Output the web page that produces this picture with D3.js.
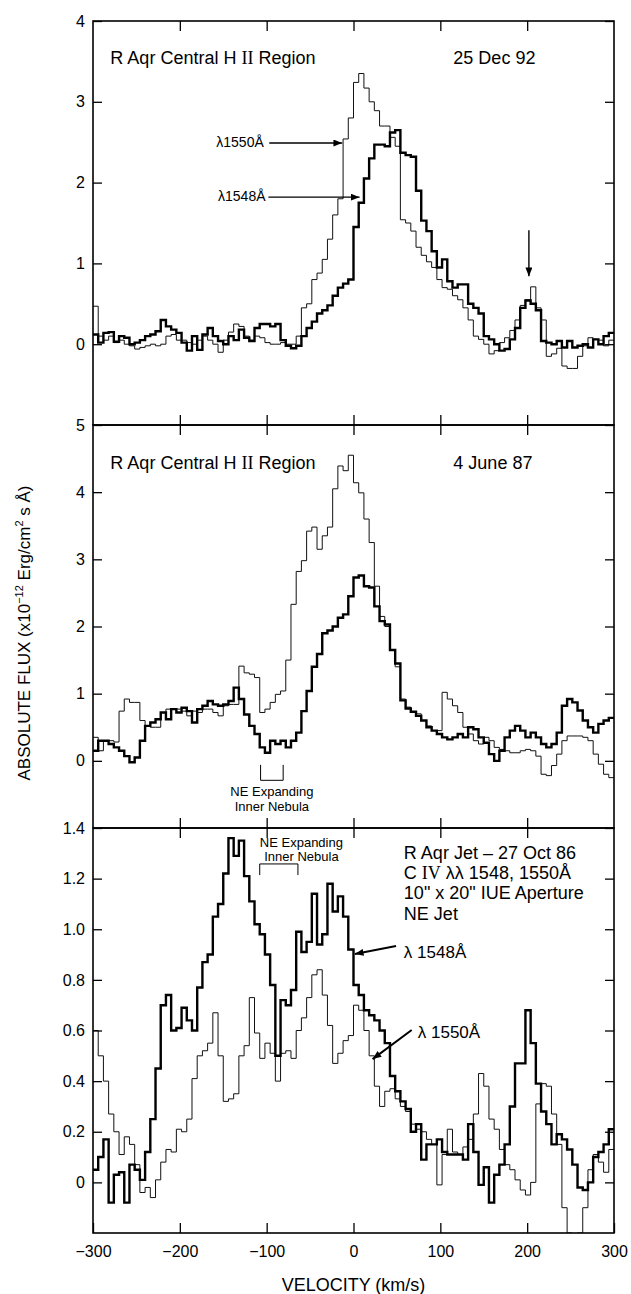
<!DOCTYPE html>
<html lang="en">
<head>
<meta charset="utf-8">
<title>R Aqr C IV profiles</title>
<script src="https://d3js.org/d3.v7.min.js"></script>
<style>
  body { margin: 0; background: #fff; }
  svg text { font-family: "Liberation Sans", Arial, sans-serif; fill: #000; }
  .serif { font-family: "Liberation Serif", "Times New Roman", serif; }
</style>
</head>
<body>
<script>
// velocity grid of the spectra: first bin start and bin width (km/s)
var binStart = -300
var binWidth = 6

var xTicks = [-200, -100, 0, 100, 200]
var xLabels = [-300, -200, -100, 0, 100, 200, 300]

// panel 1: central H II region, 25 Dec 92
var p1Ticks = [0, 1, 2, 3, 4]
var p1Thick = [
  0.12, 0.02, 0.14, 0.15, 0.03, 0.1, 0.08, 0.0, 0.02, 0.05,
  0.1, 0.12, 0.16, 0.3, 0.22, 0.18, 0.14, 0.02, -0.08, 0.1,
  -0.07, 0.12, 0.2, 0.1, 0.04, 0.0, 0.1, 0.05, 0.18, 0.08,
  0.04, 0.2, 0.25, 0.25, 0.22, 0.25, 0.05, -0.02, -0.05, -0.02,
  0.1, 0.2, 0.28, 0.38, 0.42, 0.48, 0.6, 0.7, 0.75, 0.8,
  1.45, 1.75, 2.05, 2.3, 2.47, 2.47, 2.45, 2.62, 2.65, 2.37,
  2.34, 2.32, 1.9, 1.53, 1.4, 1.15, 0.95, 1.05, 0.78, 0.7,
  0.74, 0.74, 0.5, 0.45, 0.38, 0.1, 0.06, 0.0, -0.08, -0.06,
  0.06, 0.2, 0.45, 0.54, 0.5, 0.42, 0.04, 0.02, 0.0, 0.04,
  -0.04, 0.04, -0.04, -0.02, 0.0, -0.04, 0.06, 0.0, 0.1, 0.14
]
var p1Thin = [
  0.47, 0.1, 0.05, 0.1, 0.02, 0.05, 0.0, -0.02, -0.06, -0.04,
  -0.02, 0.0, -0.02, 0.0, 0.1, 0.12, 0.05, 0.05, 0.02, 0.0,
  0.05, 0.1, 0.05, 0.0, -0.1, 0.05, 0.15, 0.25, 0.22, 0.1,
  0.05, 0.1, 0.08, 0.02, 0.0, 0.0, 0.02, 0.0, 0.0, 0.1,
  0.45, 0.5, 0.8, 0.88, 1.05, 1.3, 1.6, 1.8, 2.54, 2.8,
  3.24, 3.35, 3.17, 3.0, 2.89, 2.7, 2.7, 2.56, 2.45, 1.54,
  1.5, 1.4, 1.2, 1.1, 1.02, 0.95, 0.8, 0.7, 0.68, 0.6,
  0.55, 0.45, 0.3, 0.1, 0.06, 0.0, -0.12, -0.08, 0.02, 0.08,
  0.17, 0.3, 0.48, 0.55, 0.71, 0.45, 0.3, -0.15, -0.12, -0.05,
  -0.27, -0.3, -0.3, -0.15, -0.02, 0.08, 0.06, 0.05, -0.02, 0.05
]

// panel 2: central H II region, 4 June 87
var p2Ticks = [0, 1, 2, 3, 4, 5]
var p2Thick = [
  0.15, 0.3, 0.3, 0.25, 0.2, 0.15, 0.07, -0.02, 0.05, 0.3,
  0.52, 0.57, 0.62, 0.72, 0.62, 0.77, 0.72, 0.79, 0.74, 0.57,
  0.77, 0.82, 0.89, 0.84, 0.82, 0.84, 0.89, 1.09, 0.92, 0.69,
  0.52, 0.4, 0.2, 0.12, 0.3, 0.25, 0.3, 0.2, 0.3, 0.42,
  0.74, 1.04, 1.4, 1.59, 1.9, 1.94, 2.0, 2.13, 2.18, 2.45,
  2.73, 2.76, 2.6, 2.58, 2.3, 2.08, 2.03, 1.65, 1.45, 0.9,
  0.78, 0.73, 0.67, 0.6, 0.5, 0.45, 0.4, 0.35, 0.32, 0.35,
  0.4, 0.35, 0.5, 0.47, 0.35, 0.27, 0.1, 0.0, 0.15, 0.35,
  0.45, 0.52, 0.45, 0.35, 0.42, 0.35, 0.25, 0.2, 0.25, 0.42,
  0.82, 0.92, 0.87, 0.75, 0.6, 0.5, 0.42, 0.55, 0.6, 0.64
]
var p2Thin = [
  0.35, 0.15, 0.3, 0.3, 0.28, 0.74, 0.92, 0.87, 0.87, 0.6,
  0.52, 0.5, 0.5, 0.72, 0.77, 0.77, 0.77, 0.74, 0.67, 0.74,
  0.72, 0.77, 0.77, 0.72, 0.67, 0.82, 0.84, 0.84, 1.41, 1.31,
  1.29, 1.24, 0.72, 0.77, 0.87, 0.99, 1.04, 1.5, 2.33, 2.82,
  2.98, 3.42, 3.48, 3.15, 3.35, 3.48, 4.05, 4.39, 4.32, 4.55,
  4.14, 3.99, 3.6, 3.25, 2.6, 2.15, 2.0, 1.65, 1.4, 0.92,
  0.8, 0.72, 0.7, 0.6, 0.52, 0.45, 0.45, 1.02, 0.92, 0.82,
  0.72, 0.5, 0.4, 0.3, 0.25, 0.35, 0.3, 0.2, 0.17, 0.15,
  0.12, 0.12, 0.15, 0.17, 0.15, 0.07, -0.2, -0.22, -0.07, 0.1,
  0.3, 0.37, 0.37, 0.37, 0.35, 0.3, 0.1, -0.05, -0.2, -0.25
]

// panel 3: NE jet, 27 Oct 86
var p3Ticks = [0, 0.2, 0.4, 0.6, 0.8, 1.0, 1.2, 1.4]
var p3Thick = [
  0.05, 0.1, 0.17, -0.08, 0.03, 0.04, -0.08, 0.07, 0.05, 0.01,
  0.12, 0.25, 0.45, 0.7, 0.74, 0.6, 0.61, 0.69, 0.64, 0.6,
  0.77, 0.87, 0.9, 1.05, 1.1, 1.22, 1.36, 1.29, 1.35, 1.21,
  1.11, 1.02, 0.98, 0.9, 0.78, 0.5, 0.72, 0.7, 0.76, 0.99,
  0.91, 0.95, 1.14, 0.94, 0.98, 1.18, 1.07, 1.13, 1.05, 0.92,
  0.78, 0.74, 0.68, 0.66, 0.64, 0.6, 0.55, 0.42, 0.36, 0.32,
  0.29, 0.2, 0.23, 0.09, 0.15, 0.15, 0.17, 0.12, 0.11, 0.11,
  0.11, 0.09, 0.23, 0.12, -0.01, 0.06, -0.08, 0.03, 0.07, 0.15,
  0.3, 0.47, 0.47, 0.68, 0.55, 0.39, 0.28, 0.23, 0.15, 0.19,
  0.17, 0.13, 0.07, -0.02, -0.03, 0.0, 0.1, 0.12, 0.15, 0.21
]
var p3Thin = [
  0.6, 0.5, 0.4, 0.27, 0.2, 0.11, 0.18, 0.15, 0.07, -0.04,
  -0.02, -0.06, 0.01, 0.08, 0.13, 0.12, 0.21, 0.2, 0.25, 0.41,
  0.5, 0.52, 0.55, 0.67, 0.5, 0.32, 0.33, 0.35, 0.5, 0.54,
  0.73, 0.59, 0.49, 0.55, 0.51, 0.4, 0.51, 0.52, 0.49, 0.6,
  0.65, 0.73, 0.82, 0.84, 0.74, 0.62, 0.47, 0.51, 0.56, 0.58,
  0.7, 0.68, 0.6, 0.5, 0.38, 0.3, 0.36, 0.37, 0.33, 0.3,
  0.28, 0.23, 0.21, 0.2, 0.17, 0.15, -0.01, 0.11, 0.21, 0.12,
  0.11, 0.14, 0.17, 0.27, 0.43, 0.38, 0.25, 0.21, 0.13, 0.07,
  0.05, 0.01, -0.03, -0.05, 0.0, 0.31, 0.39, 0.38, 0.27, 0.15,
  -0.1, -0.2, -0.25, -0.2, -0.1, 0.05, 0.11, 0.08, 0.04, 0.13
]

var w = 631
var h = 1294
var left = 93, right = 614

var svg = d3.select("body").append("svg")
  .attr("width", w)
  .attr("height", h)

var defs = svg.append("defs")
defs.append("marker")
  .attr("id", "arrow")
  .attr("markerUnits", "userSpaceOnUse")
  .attr("viewBox", "0 0 10 8")
  .attr("refX", 10).attr("refY", 4)
  .attr("markerWidth", 9).attr("markerHeight", 7)
  .attr("orient", "auto")
  .append("path").attr("d", "M0,0L10,4L0,8z").attr("fill", "#000")

var x = d3.scaleLinear().domain([-300, 300]).range([left, right])

var panels = [
  { top: 21, bottom: 425, domain: [-1, 4], ticks: p1Ticks, thick: p1Thick, thin: p1Thin, fmt: d3.format("d") },
  { top: 425, bottom: 828, domain: [-1, 5], ticks: p2Ticks, thick: p2Thick, thin: p2Thin, fmt: d3.format("d") },
  { top: 828, bottom: 1233, domain: [-0.2, 1.4], ticks: p3Ticks, thick: p3Thick, thin: p3Thin,
    fmt: function(d) { return d === 0 ? "0" : d3.format(".1f")(d) } }
]

panels.forEach(function(p, k) {
  p.y = d3.scaleLinear().domain(p.domain).range([p.bottom, p.top])

  defs.append("clipPath").attr("id", "clip" + k)
    .append("rect")
    .attr("x", left).attr("y", p.top)
    .attr("width", right - left).attr("height", p.bottom - p.top)

  var step = d3.line()
    .x(function(d) { return x(d[0]) })
    .y(function(d) { return p.y(d[1]) })
    .curve(d3.curveStepAfter)

  function pts(vals) {
    var a = vals.map(function(v, i) { return [binStart + i * binWidth, v] })
    a.push([binStart + vals.length * binWidth, vals[vals.length - 1]])
    return a
  }

  var g = svg.append("g").attr("clip-path", "url(#clip" + k + ")")
  g.append("path").datum(pts(p.thin))
    .attr("d", step).attr("fill", "none")
    .attr("stroke", "#111").attr("stroke-width", 1)
  g.append("path").datum(pts(p.thick))
    .attr("d", step).attr("fill", "none")
    .attr("stroke", "#000").attr("stroke-width", 2.4)
    .attr("stroke-linejoin", "miter")

  // y axes, ticks pointing inward
  var yl = svg.append("g").attr("transform", "translate(" + left + ",0)")
    .call(d3.axisLeft(p.y).tickValues(p.ticks).tickSize(-9).tickPadding(8).tickFormat(p.fmt))
  var yr = svg.append("g").attr("transform", "translate(" + right + ",0)")
    .call(d3.axisRight(p.y).tickValues(p.ticks).tickSize(-9).tickFormat(""))

  // x ticks on the top and bottom edge of every panel
  var xt = svg.append("g").attr("transform", "translate(0," + p.top + ")")
    .call(d3.axisTop(x).tickValues(xTicks).tickSize(-10).tickFormat(""))
  var xb
  if (k === 2) {
    xb = svg.append("g").attr("transform", "translate(0," + p.bottom + ")")
      .call(d3.axisBottom(x).tickValues(xLabels).tickSize(-10).tickPadding(13))
  } else {
    xb = svg.append("g").attr("transform", "translate(0," + p.bottom + ")")
      .call(d3.axisBottom(x).tickValues(xTicks).tickSize(-10).tickFormat(""))
  }

  ;[yl, yr, xt, xb].forEach(function(a) {
    a.select(".domain").remove()
    a.selectAll("line").attr("stroke", "#000").attr("stroke-width", 1.3)
    a.selectAll("text").attr("font-size", 16).attr("font-family", "'Liberation Sans', Arial, sans-serif")
  })

  svg.append("rect")
    .attr("x", left).attr("y", p.top)
    .attr("width", right - left).attr("height", p.bottom - p.top)
    .attr("fill", "none").attr("stroke", "#000").attr("stroke-width", 1.6)
})

var y1 = panels[0].y, y2 = panels[1].y, y3 = panels[2].y

function title(y, yv, date) {
  var t = svg.append("text").attr("x", x(-280)).attr("y", y(yv)).attr("font-size", 18)
  t.append("tspan").text("R Aqr Central H ")
  t.append("tspan").attr("class", "serif").text("II")
  t.append("tspan").text(" Region")
  svg.append("text").attr("x", x(115)).attr("y", y(yv)).attr("font-size", 18).text(date)
}
title(y1, 3.47, "25 Dec 92")
title(y2, 4.34, "4 June 87")

function arrow(x1, y1v, x2, y2v, ys, sw) {
  svg.append("line")
    .attr("x1", x(x1)).attr("y1", ys(y1v))
    .attr("x2", x(x2)).attr("y2", ys(y2v))
    .attr("stroke", "#000").attr("stroke-width", sw || 1.3)
    .attr("marker-end", "url(#arrow)")
}

// panel 1 labels
svg.append("text").attr("x", x(-158)).attr("y", y1(2.44)).attr("font-size", 14).text("λ1550Å")
arrow(-97, 2.49, -13, 2.49, y1, 1.4)
svg.append("text").attr("x", x(-156)).attr("y", y1(1.77)).attr("font-size", 14).text("λ1548Å")
arrow(-98, 1.82, 7, 1.82, y1, 1.4)
arrow(202, 1.41, 202, 0.84, y1, 1.4)

// panel 2 bracket
svg.append("path")
  .attr("d", "M" + x(-107) + "," + y2(-0.06) + "V" + y2(-0.29) + "H" + x(-81) + "V" + y2(-0.06))
  .attr("fill", "none").attr("stroke", "#000").attr("stroke-width", 1)
svg.append("text").attr("x", x(-94)).attr("y", y2(-0.52)).attr("font-size", 13)
  .attr("text-anchor", "middle").text("NE Expanding")
svg.append("text").attr("x", x(-94)).attr("y", y2(-0.75)).attr("font-size", 13)
  .attr("text-anchor", "middle").text("Inner Nebula")

// panel 3 labels
svg.append("text").attr("x", x(-60)).attr("y", y3(1.325)).attr("font-size", 13)
  .attr("text-anchor", "middle").text("NE Expanding")
svg.append("text").attr("x", x(-60)).attr("y", y3(1.27)).attr("font-size", 13)
  .attr("text-anchor", "middle").text("Inner Nebula")
svg.append("path")
  .attr("d", "M" + x(-108) + "," + y3(1.214) + "V" + y3(1.258) + "H" + x(-64) + "V" + y3(1.214))
  .attr("fill", "none").attr("stroke", "#000").attr("stroke-width", 1)

var info = svg.append("g")
info.append("text").attr("x", x(58)).attr("y", y3(1.278)).attr("font-size", 18).text("R Aqr Jet – 27 Oct 86")
var civ = info.append("text").attr("x", x(58)).attr("y", y3(1.199)).attr("font-size", 18)
civ.append("tspan").text("C ")
civ.append("tspan").attr("class", "serif").text("IV")
civ.append("tspan").text(" λλ 1548, 1550Å")
info.append("text").attr("x", x(58)).attr("y", y3(1.12)).attr("font-size", 18).text('10" x 20" IUE Aperture')
info.append("text").attr("x", x(58)).attr("y", y3(1.037)).attr("font-size", 18).text("NE Jet")

svg.append("text").attr("x", x(58)).attr("y", y3(0.886)).attr("font-size", 17).text("λ 1548Å")
arrow(49, 0.934, 1.5, 0.902, y3, 2)
svg.append("text").attr("x", x(74)).attr("y", y3(0.57)).attr("font-size", 17).text("λ 1550Å")
arrow(67, 0.602, 22, 0.487, y3, 2)

// axis titles
svg.append("text")
  .attr("x", x(0)).attr("y", 1291)
  .attr("text-anchor", "middle").attr("font-size", 18)
  .text("VELOCITY (km/s)")

var yt = svg.append("text")
  .attr("transform", "translate(30,633) rotate(-90)")
  .attr("text-anchor", "middle").attr("font-size", 17)
yt.append("tspan").text("ABSOLUTE FLUX (x10")
yt.append("tspan").attr("dy", -7).attr("font-size", 11).text("−12")
yt.append("tspan").attr("dy", 7).text(" Erg/cm")
yt.append("tspan").attr("dy", -7).attr("font-size", 11).text("2")
yt.append("tspan").attr("dy", 7).text(" s Å)")
</script>
</body>
</html>
